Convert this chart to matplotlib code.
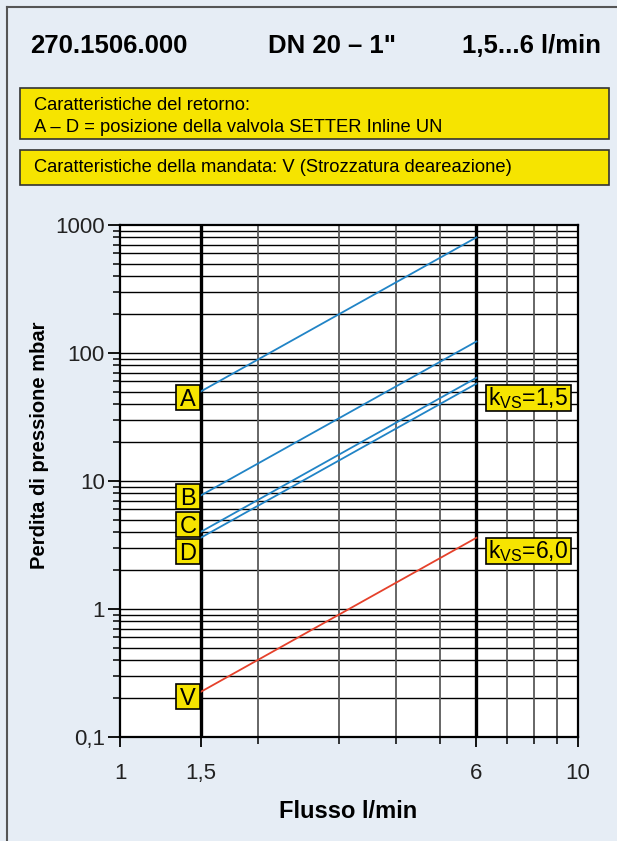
import numpy as np
import matplotlib.pyplot as plt
from matplotlib.lines import Line2D
from matplotlib.patches import Rectangle
from matplotlib.transforms import IdentityTransform
from matplotlib.ticker import FixedLocator, NullFormatter

plt.rcParams['font.family'] = ['Liberation Sans', 'DejaVu Sans']
plt.rcParams['mathtext.fontset'] = 'custom'
plt.rcParams['mathtext.rm'] = 'Liberation Sans'

# pressure loss curves, flow 1.5 -> 6 l/min
flow = [1.5, 6.0]
curve_names = ['A', 'B', 'C', 'D', 'V']
dp_start = [50.0, 7.7, 4.0, 3.6, 0.225]   # mbar at 1.5 l/min
dp_end = [800.0, 123.0, 64.0, 57.6, 3.6]   # mbar at 6 l/min
curve_colors = ['#2184c6', '#2184c6', '#2184c6', '#2184c6', '#e5412b']

# label boxes on the 1.5 l/min line
tag_y = [45.0, 7.6, 4.6, 2.8, 0.207]
kvs_text = [r'k$_\mathregular{VS}$=1,5', r'k$_\mathregular{VS}$=6,0']
kvs_y = [44.7, 2.84]

x_ticks = [1, 1.5, 6, 10]
x_ticklabels = ['1', '1,5', '6', '10']
y_ticks = [0.1, 1, 10, 100, 1000]
y_ticklabels = ['0,1', '1', '10', '100', '1000']

bg = '#e6edf5'
yellow = '#f6e400'

W, H = 617, 841
fig = plt.figure(figsize=(W / 100, H / 100), dpi=100, facecolor=bg)


def fx(px):
    return px / W


def fy(py):
    return 1 - py / H


# outer frame (top and left edges)
fig.add_artist(Line2D([fx(7), fx(7)], [fy(7), 0], color='#555555', lw=1.5))
fig.add_artist(Line2D([fx(7), 1], [fy(7), fy(7)], color='#555555', lw=1.5))

# header
fig.text(fx(30), fy(53), '270.1506.000', fontsize=18.5, fontweight='bold', va='baseline')
fig.text(fx(268), fy(53), 'DN 20 – 1"', fontsize=18.5, fontweight='bold', va='baseline')
fig.text(fx(601), fy(53), '1,5...6 l/min', fontsize=18.5, fontweight='bold', va='baseline', ha='right')

# yellow info boxes
for top, bot in [(88, 139), (150, 185)]:
    fig.add_artist(Rectangle((fx(20), fy(bot)), fx(609) - fx(20), fy(top) - fy(bot),
                             transform=fig.transFigure, facecolor=yellow,
                             edgecolor='#333333', lw=1.2))
fig.text(fx(34), fy(105), 'Caratteristiche del retorno:', fontsize=13.2, va='center')
fig.text(fx(34), fy(127), 'A – D = posizione della valvola SETTER Inline UN', fontsize=13.2, va='center')
fig.text(fx(34), fy(168), 'Caratteristiche della mandata: V (Strozzatura deareazione)', fontsize=13.2, va='center')

ax = fig.add_axes([fx(120), fy(737), fx(578) - fx(120), fy(225) - fy(737)])
ax.set_facecolor('white')
ax.set_xscale('log')
ax.set_yscale('log')
ax.set_xlim(1, 10)
ax.set_ylim(0.1, 1000)

# grid
for dec in [0.1, 1, 10, 100]:
    for m in range(1, 10):
        ax.axhline(dec * m, color='black', lw=1.0, zorder=1)
for v in [2, 3, 4, 5, 7, 8, 9]:
    ax.axvline(v, color='#5a5a5a', lw=1.3, zorder=1)
for v in flow:
    ax.axvline(v, color='black', lw=2.4, zorder=2)

for s, e, c in zip(dp_start, dp_end, curve_colors):
    ax.plot(flow, [s, e], color=c, lw=1.3, zorder=3)


def tag(x, y, text, w, h, size, va):
    # fixed-size yellow box in pixels, centred on a data point
    px, py = ax.transData.transform((x, y))
    ax.add_patch(Rectangle((px - w / 2, py - h / 2), w, h, transform=IdentityTransform(),
                           facecolor=yellow, edgecolor='black', lw=1.2, zorder=5, clip_on=False))
    ax.text(x, y, text, fontsize=size, ha='center', va=va, zorder=6)


for name, y in zip(curve_names, tag_y):
    tag(1.408, y, name, 24, 25, 17, 'center_baseline')
for t, y in zip(kvs_text, kvs_y):
    tag(7.78, y, t, 85, 26, 16.5, 'center')

for sp in ax.spines.values():
    sp.set_linewidth(1.6)
    sp.set_color('black')

ax.xaxis.set_major_locator(FixedLocator(x_ticks))
ax.set_xticklabels(x_ticklabels)
ax.xaxis.set_minor_locator(FixedLocator([2, 3, 4, 5, 7, 8, 9]))
ax.xaxis.set_minor_formatter(NullFormatter())
ax.yaxis.set_major_locator(FixedLocator(y_ticks))
ax.set_yticklabels(y_ticklabels)
ax.yaxis.set_minor_locator(FixedLocator([d * m for d in [0.1, 1, 10, 100] for m in range(2, 10)]))
ax.yaxis.set_minor_formatter(NullFormatter())
ax.tick_params(axis='both', which='major', direction='out', length=7, width=1.3,
               labelsize=16, pad=6, labelcolor='#222222')
ax.tick_params(axis='both', which='minor', direction='out', length=5, width=1.1)
ax.tick_params(axis='x', which='major', pad=12)
ax.tick_params(axis='y', which='major', length=9, pad=2)

fig.text(fx(40), fy(445), 'Perdita di pressione mbar', fontsize=14.5, fontweight='bold',
         rotation=90, ha='center', va='center')
fig.text(fx(348), fy(812), 'Flusso l/min', fontsize=17, fontweight='bold',
         ha='center', va='center')

fig.savefig('out.png', dpi=100, facecolor=bg)
